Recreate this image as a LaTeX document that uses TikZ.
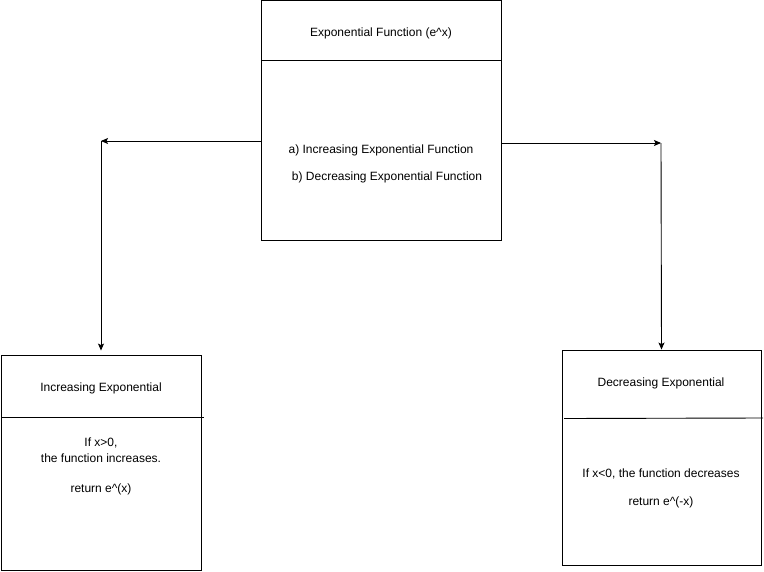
\documentclass[tikz,border=0pt]{standalone}
\usepackage{fontspec}
\setmainfont{Liberation Sans}
\usetikzlibrary{arrows.meta}
\begin{document}
\begin{tikzpicture}[x=1pt,y=-1pt,
  box/.style={draw=black,line width=0.9pt,rectangle,inner sep=0pt},
  txt/.style={font=\fontsize{12}{14}\selectfont,inner sep=0pt,align=center},
  arr/.style={line width=0.9pt,-{Stealth[length=7pt,width=6pt,inset=1.5pt]}},
  divider/.style={line width=0.9pt}]
\useasboundingbox[fill=white] (0,0) rectangle (764,571);
% boxes
\node[box,minimum width=240pt,minimum height=240pt] (top) at (381,120) {};
\node[box,minimum width=200pt,minimum height=215pt] (left) at (101,462.5) {};
\node[box,minimum width=199pt,minimum height=215pt] (right) at (661.5,457.5) {};
% dividers
\draw[divider] (261,60) -- (501,60);
\draw[divider] (1,417) -- (204,417);
\draw[divider] (564,418.5) -- (763,418);
% texts
\node[txt] (toptitle) at (381,33) {Exponential Function (e\^{}x)};
\node[txt] (opta) at (381,150) {a) Increasing Exponential Function};
\node[txt] (optb) at (387,177) {b) Decreasing Exponential Function};
\node[txt] (lefttitle) at (101,388) {Increasing Exponential};
\node[txt,align=center,font=\fontsize{12}{16}\selectfont] (leftbody) at (101,450) {If x>0,\\the function increases.};
\node[txt] (leftret) at (101,489) {return e\^{}(x)};
\node[txt] (righttitle) at (661,383) {Decreasing Exponential};
\node[txt] (rightbody) at (661,474) {If x<0, the function decreases};
\node[txt] (rightret) at (661,502) {return e\^{}(-x)};
% connectors
\coordinate (lc) at (101,141);
\coordinate (rc) at (661,143);
\draw[arr] (top.west |- lc) -- (lc);
\draw[arr,shorten >=4pt] (lc) -- (left.north);
\draw[arr] (top.east |- rc) -- (rc);
\draw[arr] (rc) -- (right.north);
\end{tikzpicture}
\end{document}
